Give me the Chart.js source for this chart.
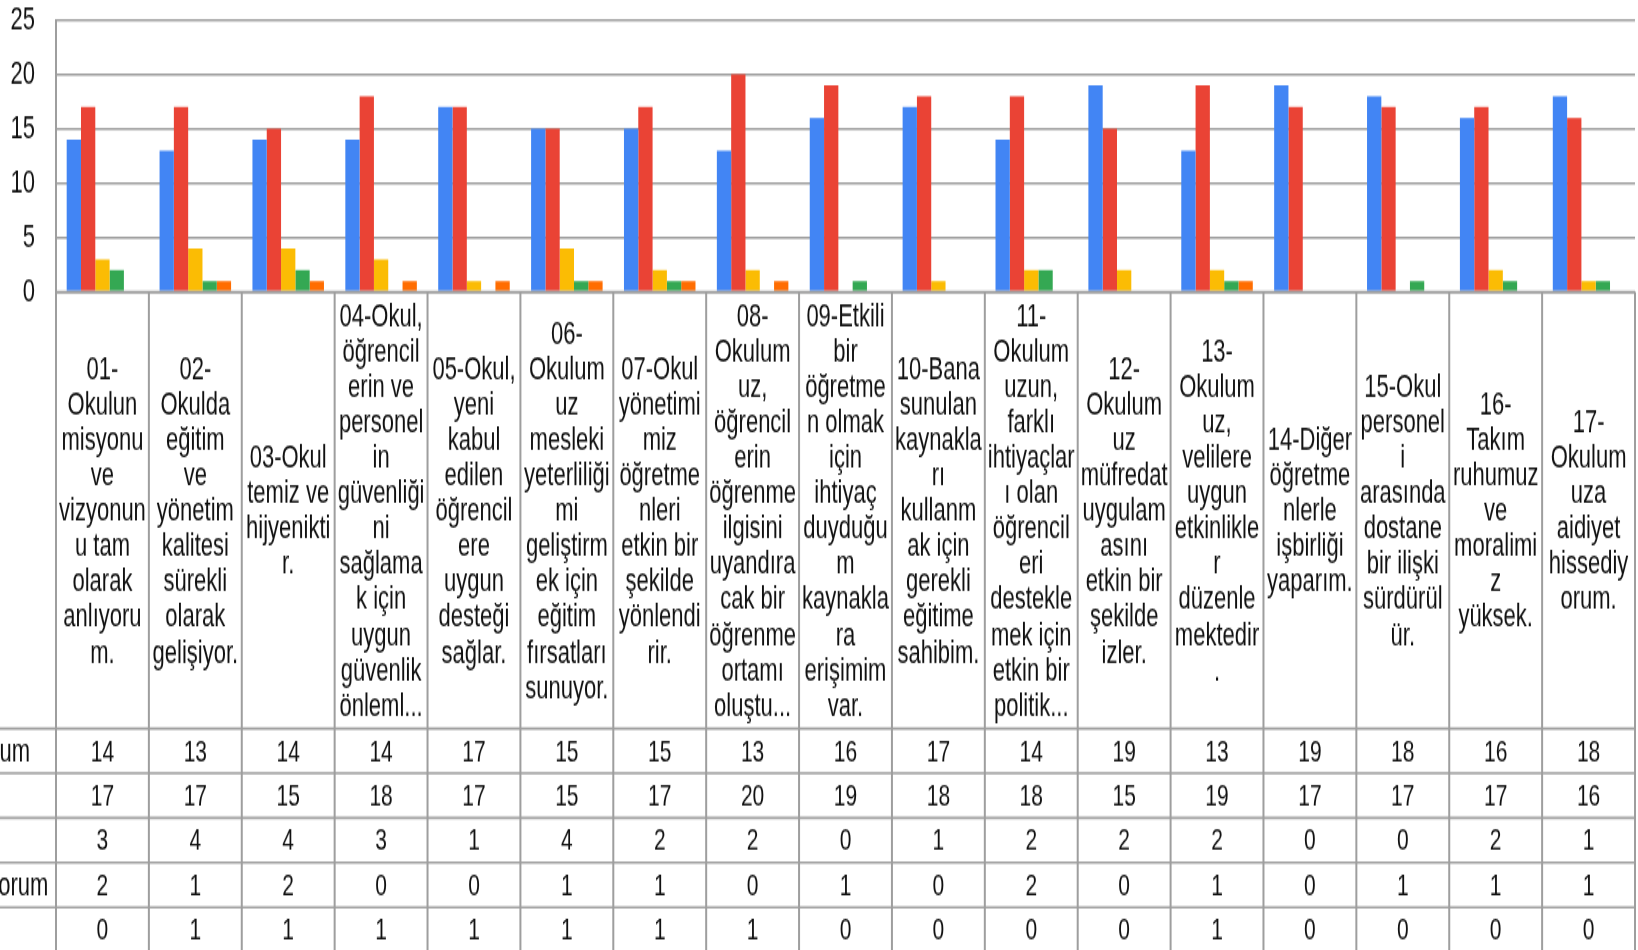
<!DOCTYPE html>
<html>
<head>
<meta charset="utf-8">
<script src="https://cdn.jsdelivr.net/npm/chart.js@4"></script>
<style>
  html, body { margin: 0; padding: 0; background: #fff; overflow: hidden; }
  /* the reference is a vertically stretched screenshot, so the chart is drawn flat and stretched */
  #wrap { position: absolute; left: 0; top: 0; width: 1638px; height: 646px; transform: scale(1, 1.47); transform-origin: 0 0; }
</style>
</head>
<body>
<div id="wrap"><canvas id="myChart"></canvas></div>
<script>
// category labels, wrapped the way the table cells show them
const categories = [
  ['01-', 'Okulun', 'misyonu', 've', 'vizyonun', 'u tam', 'olarak', 'anlıyoru', 'm.'],
  ['02-', 'Okulda', 'eğitim', 've', 'yönetim', 'kalitesi', 'sürekli', 'olarak', 'gelişiyor.'],
  ['03-Okul', 'temiz ve', 'hijyenikti', 'r.'],
  ['04-Okul,', 'öğrencil', 'erin ve', 'personel', 'in', 'güvenliği', 'ni', 'sağlama', 'k için', 'uygun', 'güvenlik', 'önleml...'],
  ['05-Okul,', 'yeni', 'kabul', 'edilen', 'öğrencil', 'ere', 'uygun', 'desteği', 'sağlar.'],
  ['06-', 'Okulum', 'uz', 'mesleki', 'yeterliliği', 'mi', 'geliştirm', 'ek için', 'eğitim', 'fırsatları', 'sunuyor.'],
  ['07-Okul', 'yönetimi', 'miz', 'öğretme', 'nleri', 'etkin bir', 'şekilde', 'yönlendi', 'rir.'],
  ['08-', 'Okulum', 'uz,', 'öğrencil', 'erin', 'öğrenme', 'ilgisini', 'uyandıra', 'cak bir', 'öğrenme', 'ortamı', 'oluştu...'],
  ['09-Etkili', 'bir', 'öğretme', 'n olmak', 'için', 'ihtiyaç', 'duyduğu', 'm', 'kaynakla', 'ra', 'erişimim', 'var.'],
  ['10-Bana', 'sunulan', 'kaynakla', 'rı', 'kullanm', 'ak için', 'gerekli', 'eğitime', 'sahibim.'],
  ['11-', 'Okulum', 'uzun,', 'farklı', 'ihtiyaçlar', 'ı olan', 'öğrencil', 'eri', 'destekle', 'mek için', 'etkin bir', 'politik...'],
  ['12-', 'Okulum', 'uz', 'müfredat', 'uygulam', 'asını', 'etkin bir', 'şekilde', 'izler.'],
  ['13-', 'Okulum', 'uz,', 'velilere', 'uygun', 'etkinlikle', 'r', 'düzenle', 'mektedir', '.'],
  ['14-Diğer', 'öğretme', 'nlerle', 'işbirliği', 'yaparım.'],
  ['15-Okul', 'personel', 'i', 'arasında', 'dostane', 'bir ilişki', 'sürdürül', 'ür.'],
  ['16-', 'Takım', 'ruhumuz', 've', 'moralimi', 'z', 'yüksek.'],
  ['17-', 'Okulum', 'uza', 'aidiyet', 'hissediy', 'orum.']
];

const seriesLabels = ['Kesinlikle katılıyorum', 'Katılıyorum', 'Kararsızım', 'Kesinlikle katılmıyorum', 'Katılmıyorum'];

const kesinlikleKatiliyorum = [14, 13, 14, 14, 17, 15, 15, 13, 16, 17, 14, 19, 13, 19, 18, 16, 18];
const katiliyorum = [17, 17, 15, 18, 17, 15, 17, 20, 19, 18, 18, 15, 19, 17, 17, 17, 16];
const kararsizim = [3, 4, 4, 3, 1, 4, 2, 2, 0, 1, 2, 2, 2, 0, 0, 2, 1];
const kesinlikleKatilmiyorum = [2, 1, 2, 0, 0, 1, 1, 0, 1, 0, 2, 0, 1, 0, 1, 1, 1];
const katilmiyorum = [0, 1, 1, 1, 1, 1, 1, 1, 0, 0, 0, 0, 1, 0, 0, 0, 0];

const yTicks = [0, 5, 10, 15, 20, 25];

const seriesValues = [kesinlikleKatiliyorum, katiliyorum, kararsizim, kesinlikleKatilmiyorum, katilmiyorum];
const seriesColors = ['#4285F4', '#EA4335', '#FBBC04', '#34A853', '#FF6D01'];

const FONT = '"Liberation Sans", Arial, sans-serif';
const LINE_COLOR = '#9e9e9e';
const TEXT_COLOR = '#111';

// data table under the plot
const tablePlugin = {
  id: 'dataTable',
  afterDraw(chart) {
    const { ctx, chartArea, scales } = chart;
    const x = scales.x;
    const n = categories.length;
    const colW = (chartArea.right - chartArea.left) / n;
    const headerTop = chartArea.bottom;
    const headerBottom = headerTop + 297;
    const rowH = 30.4;
    const bottom = chart.height;

    ctx.save();
    ctx.strokeStyle = LINE_COLOR;

    // horizontal lines
    ctx.lineWidth = 1.6;
    ctx.beginPath();
    ctx.moveTo(chartArea.left, headerTop);
    ctx.lineTo(chartArea.right, headerTop);
    for (let r = 0; r < seriesLabels.length; r++) {
      const y = headerBottom + r * rowH;
      ctx.moveTo(0, y);
      ctx.lineTo(chartArea.right, y);
    }
    ctx.stroke();

    // vertical lines
    ctx.lineWidth = 2;
    ctx.beginPath();
    for (let i = 0; i <= n; i++) {
      const xx = chartArea.left + i * colW;
      ctx.moveTo(xx, headerTop);
      ctx.lineTo(xx, bottom);
    }
    ctx.stroke();

    // header texts
    ctx.fillStyle = TEXT_COLOR;
    ctx.textAlign = 'center';
    ctx.textBaseline = 'middle';
    ctx.font = '22px ' + FONT;
    const lineH = 24.1;
    const headerMid = (headerTop + headerBottom) / 2 + 1;
    categories.forEach((lines, i) => {
      const cx = x.getPixelForValue(i);
      const startY = headerMid - (lines.length - 1) * lineH / 2;
      lines.forEach((line, k) => {
        ctx.fillText(line, cx, startY + k * lineH);
      });
    });

    // values
    ctx.font = '21px ' + FONT;
    seriesValues.forEach((values, r) => {
      const cy = headerBottom + r * rowH + rowH / 2 + 1;
      values.forEach((v, i) => {
        ctx.fillText(String(v), x.getPixelForValue(i), cy);
      });
    });

    // row labels, the left part is cut off like in the screenshot
    ctx.font = '22px ' + FONT;
    ctx.textAlign = 'left';
    const labelX = 30 - ctx.measureText(seriesLabels[0]).width;
    seriesLabels.forEach((label, r) => {
      const cy = headerBottom + r * rowH + rowH / 2 + 1;
      ctx.fillText(label, labelX, cy);
    });

    ctx.restore();
  }
};

const ctx = document.getElementById('myChart').getContext('2d');
const myChart = new Chart(ctx, {
  type: 'bar',
  data: {
    labels: categories,
    datasets: seriesLabels.map((label, i) => ({
      label: label,
      data: seriesValues[i],
      backgroundColor: seriesColors[i],
      borderWidth: 0,
    })),
  },
  options: {
    responsive: true,
    maintainAspectRatio: false,
    animation: false,
    categoryPercentage: 0.77,
    barPercentage: 1,
    layout: {
      padding: { top: 13.6, right: 3, bottom: 447.4, left: 0 },
    },
    plugins: {
      legend: { display: false },
      tooltip: { enabled: false },
    },
    scales: {
      x: {
        display: false,
      },
      y: {
        min: 0,
        max: 25,
        afterBuildTicks(scale) {
          scale.ticks = yTicks.map(v => ({ value: v }));
        },
        afterFit(scale) {
          scale.width = 56;
          scale.paddingTop = 0;
          scale.paddingBottom = 0;
        },
        border: { display: true, color: LINE_COLOR, width: 2 },
        grid: { color: LINE_COLOR, lineWidth: 1.6, drawTicks: false },
        ticks: {
          padding: 21,
          color: TEXT_COLOR,
          font: { size: 22, family: FONT },
        },
      },
    },
  },
  plugins: [tablePlugin],
});
</script>
</body>
</html>
